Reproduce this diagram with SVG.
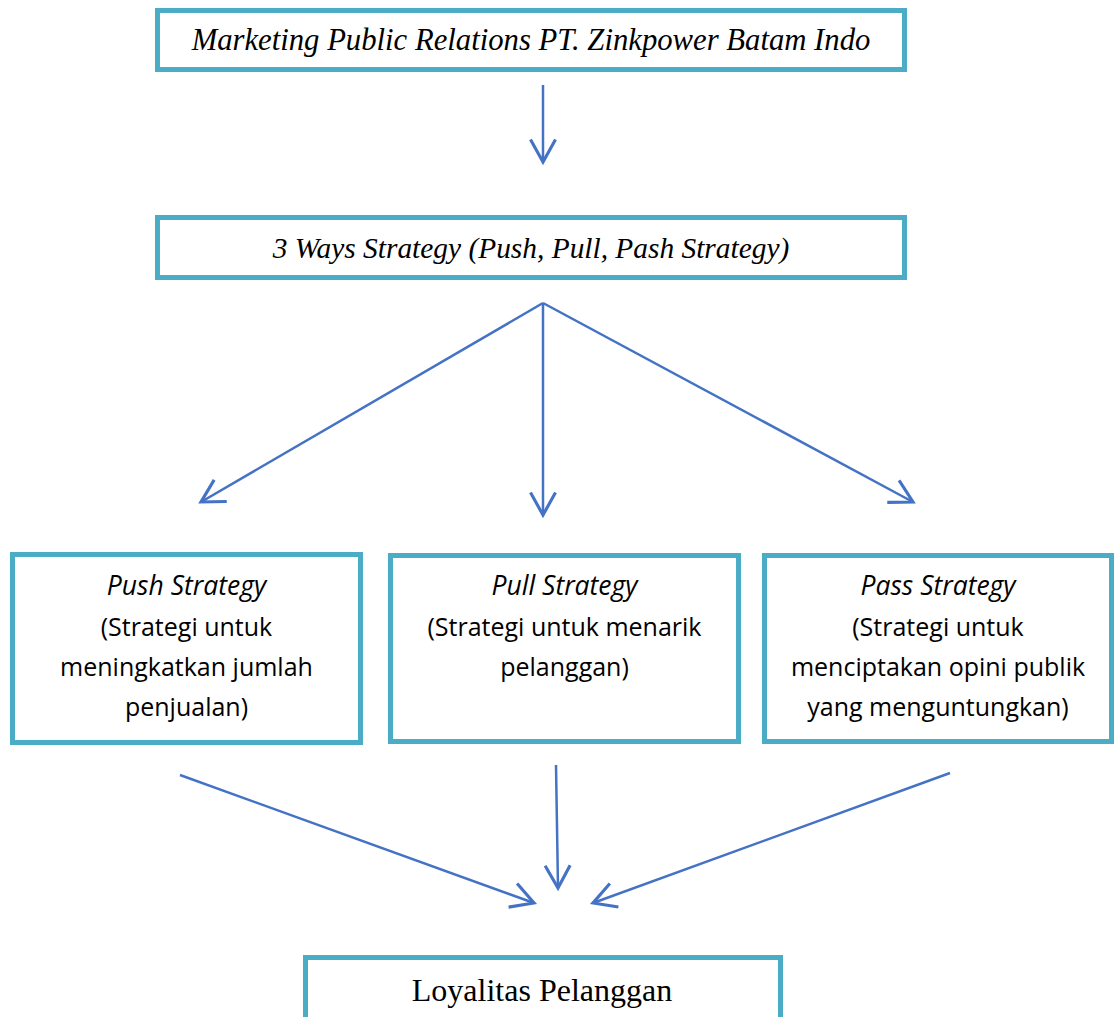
<svg xmlns="http://www.w3.org/2000/svg" width="1114" height="1017" viewBox="0 0 1114 1017">
<style>
.box{fill:#fff;stroke:#4BACC6;stroke-width:5}
.ser{font-family:"Liberation Serif","Times New Roman",serif;font-size:30px;fill:#000;text-anchor:middle}
.sans{font-family:"Open Sans","Noto Sans",sans-serif;font-size:25px;fill:#000;text-anchor:middle}
.it{font-style:italic}
.ti{font-style:italic;font-size:26.5px}
.con line{stroke:#4472C4;stroke-width:2.5;marker-end:url(#ah)}
</style>
<defs>
<marker id="ah" markerUnits="userSpaceOnUse" markerWidth="30" markerHeight="30" viewBox="-20 -12 24 24" refX="0" refY="0" orient="auto">
<path d="M-18,-10 L0,0 L-18,10" fill="none" stroke="#4472C4" stroke-width="2.5"/>
</marker>
</defs>
<g id="n1"><rect class="box" x="157.5" y="10.5" width="747" height="59"/><text class="ser it" x="531" y="50" style="font-size:30.7px">Marketing Public Relations PT. Zinkpower Batam Indo</text></g>
<g id="n2"><rect class="box" x="157.5" y="217.5" width="747" height="60"/><text class="ser it" x="531" y="258" style="font-size:29.4px">3 Ways Strategy (Push, Pull, Pash Strategy)</text></g>
<g id="n3"><rect class="box" x="12.5" y="554.5" width="348" height="188"/><text class="sans" x="186.5" y="595"><tspan class="ti">Push Strategy</tspan><tspan x="186.5" y="636">(Strategi untuk</tspan><tspan x="186.5" y="676">meningkatkan jumlah</tspan><tspan x="186.5" y="716">penjualan)</tspan></text></g>
<g id="n4"><rect class="box" x="390.5" y="555.5" width="348" height="186"/><text class="sans" x="564.5" y="595"><tspan class="ti">Pull Strategy</tspan><tspan x="564.5" y="636">(Strategi untuk menarik</tspan><tspan x="564.5" y="676">pelanggan)</tspan></text></g>
<g id="n5"><rect class="box" x="764.5" y="555.5" width="347" height="186"/><text class="sans" x="938" y="595"><tspan class="ti">Pass Strategy</tspan><tspan x="938" y="636">(Strategi untuk</tspan><tspan x="938" y="676">menciptakan opini publik</tspan><tspan x="938" y="716">yang menguntungkan)</tspan></text></g>
<g id="n6"><rect class="box" x="305.5" y="957.5" width="475" height="75"/><text class="ser" x="542" y="1001" style="font-size:32px">Loyalitas Pelanggan</text></g>
<g id="connectors" class="con">
<line x1="543" y1="85" x2="543" y2="162"/>
<line x1="543" y1="303" x2="201" y2="502"/>
<line x1="543" y1="303" x2="543" y2="515"/>
<line x1="543" y1="303" x2="913" y2="502"/>
<line x1="180" y1="775" x2="534" y2="903"/>
<line x1="556" y1="765" x2="558" y2="888"/>
<line x1="950" y1="773" x2="593" y2="903"/>
</g>
</svg>
